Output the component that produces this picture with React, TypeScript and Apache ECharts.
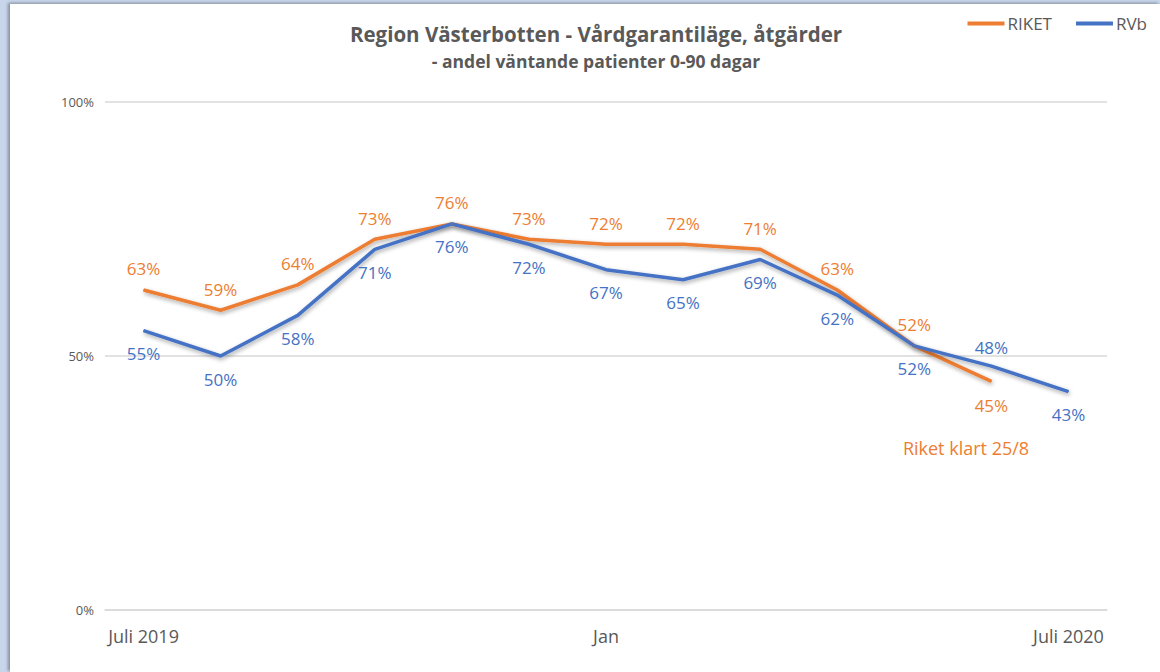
import React, { useEffect, useRef } from "react";
import * as echarts from "echarts";

const months = ["Juli 2019", "Aug", "Sep", "Okt", "Nov", "Dec", "Jan", "Feb", "Mar", "Apr", "Maj", "Jun", "Juli 2020"];
const shownLabels = ["Juli 2019", "Jan", "Juli 2020"];
const riket = [63, 59, 64, 73, 76, 73, 72, 72, 71, 63, 52, 45];
const rvb = [55, 50, 58, 71, 76, 72, 67, 65, 69, 62, 52, 48, 43];
const yTicks = [0, 50, 100];
const annotation = "Riket klart 25/8";

const ORANGE = "#ED7D31";
const BLUE = "#4472C4";
const GREY = "#595959";
const FONT = "'Open Sans', sans-serif";

export default function App() {
  const ref = useRef<HTMLDivElement>(null);
  useEffect(() => {
    if (!ref.current) return;
    const chart = echarts.init(ref.current, null, { renderer: "svg" });
    const riketData = riket.map((v, i) => ({
      value: v,
      label: i === riket.length - 1 ? { position: "bottom", distance: 15 } : { position: "top", distance: 12 },
    }));
    const rvbData = rvb.map((v, i) => ({
      value: v,
      label: i === 11 ? { position: "top", distance: 10 } : { position: "bottom", distance: 14 },
    }));
    const lineCommon = {
      type: "line",
      symbol: "circle",
      symbolSize: 1,
      showSymbol: true,
      animation: false,
      z: 2,
    };
    chart.setOption({
      animation: false,
      backgroundColor: "#ffffff",
      title: {
        text: "Region Västerbotten - Vårdgarantiläge, åtgärder",
        subtext: "- andel väntande patienter 0-90 dagar",
        left: 581,
        textAlign: "center",
        top: 14,
        itemGap: 8,
        textStyle: { fontFamily: FONT, fontSize: 20.5, fontWeight: "bold", color: GREY },
        subtextStyle: { fontFamily: FONT, fontSize: 17.5, fontWeight: "bold", color: GREY },
      },
      legend: {
        right: 8,
        top: 6,
        icon: "rect",
        itemWidth: 37,
        itemHeight: 4,
        itemGap: 24,
        textStyle: { fontFamily: FONT, fontSize: 17, color: GREY, padding: [0, 0, 0, -2] },
        data: ["RIKET", "RVb"],
      },
      grid: { left: 95, right: 53, top: 98, bottom: 62, containLabel: false },
      xAxis: {
        type: "category",
        data: months,
        boundaryGap: true,
        axisLine: { show: true, lineStyle: { color: "#d9d9d9", width: 1.5 } },
        axisTick: { show: false },
        axisLabel: {
          interval: (i: number) => shownLabels.includes(months[i]),
          color: GREY,
          fontFamily: FONT,
          fontSize: 18,
          margin: 17,
        },
        splitLine: { show: false },
      },
      yAxis: {
        type: "value",
        min: yTicks[0],
        max: yTicks[yTicks.length - 1],
        interval: 50,
        axisLine: { show: false },
        axisTick: { show: false },
        axisLabel: {
          formatter: "{value}%",
          color: GREY,
          fontFamily: FONT,
          fontSize: 13,
          margin: 11,
        },
        splitLine: { show: true, lineStyle: { color: "#d9d9d9", width: 1.5 } },
      },
      series: [
        {
          ...lineCommon,
          name: "RIKET",
          data: riketData,
          itemStyle: { color: ORANGE },
          lineStyle: {
            color: ORANGE,
            width: 3.5,
            shadowColor: "rgba(0,0,0,0.35)",
            shadowBlur: 4,
            shadowOffsetY: 2,
            shadowOffsetX: 1,
          },
          label: {
            show: true,
            formatter: "{c}%",
            color: ORANGE,
            fontFamily: FONT,
            fontSize: 17,
          },
        },
        {
          ...lineCommon,
          name: "RVb",
          data: rvbData,
          itemStyle: { color: BLUE },
          lineStyle: {
            color: BLUE,
            width: 3.5,
            shadowColor: "rgba(0,0,0,0.35)",
            shadowBlur: 4,
            shadowOffsetY: 2,
            shadowOffsetX: 1,
          },
          label: {
            show: true,
            formatter: "{c}%",
            color: BLUE,
            fontFamily: FONT,
            fontSize: 17,
          },
        },
      ],
      graphic: [
        {
          type: "text",
          x: 956,
          y: 444,
          style: {
            text: annotation,
            fill: ORANGE,
            font: `18px ${FONT}`,
            textAlign: "center",
            textVerticalAlign: "middle",
          },
        },
      ],
    });
    return () => chart.dispose();
  }, []);

  return (
    <div
      style={{
        position: "fixed",
        left: 0,
        top: 0,
        width: 1160,
        height: 672,
        background: "#c8d6eb",
        overflow: "hidden",
      }}
    >
      <div
        ref={ref}
        style={{
          position: "absolute",
          left: 10,
          top: 4,
          width: 1150,
          height: 668,
          background: "#ffffff",
          boxShadow: "-2px -1px 3px rgba(0,0,0,0.35)",
        }}
      />
    </div>
  );
}
